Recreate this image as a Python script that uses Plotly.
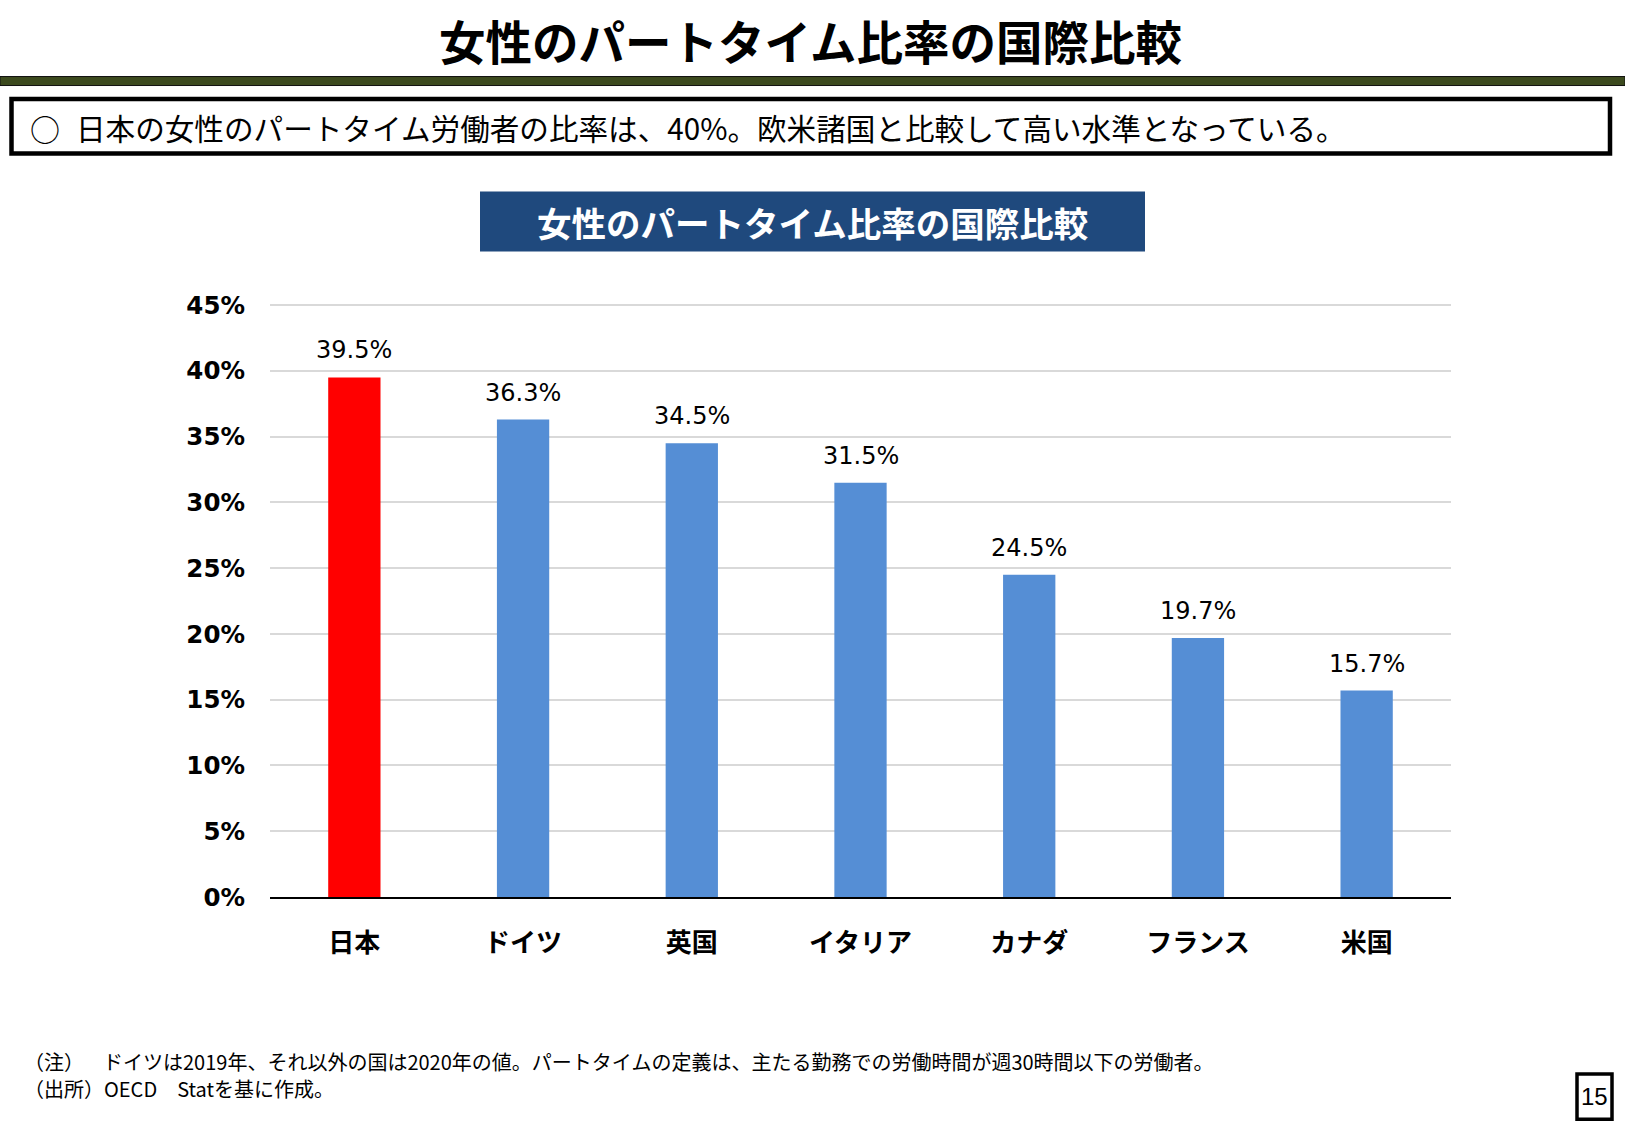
import plotly.graph_objects as go

categories = ["日本", "ドイツ", "英国", "イタリア", "カナダ", "フランス", "米国"]
values = [39.5, 36.3, 34.5, 31.5, 24.5, 19.7, 15.7]
bar_colors = ["#FF0000", "#558ED5", "#558ED5", "#558ED5", "#558ED5", "#558ED5", "#558ED5"]
tick_vals = [0, 5, 10, 15, 20, 25, 30, 35, 40, 45]

page_title = "女性のパートタイム比率の国際比較"
summary_mark = "○"
summary = "日本の女性のパートタイム労働者の比率は、40%。欧米諸国と比較して高い水準となっている。"
chart_title = "女性のパートタイム比率の国際比較"
note1_head = "（注）"
note1 = "ドイツは2019年、それ以外の国は2020年の値。パートタイムの定義は、主たる勤務での労働時間が週30時間以下の労働者。"
note2 = "（出所）OECD　Statを基に作成。"
page_no = "15"

W, H = 1625, 1125
PL, PR = 270, 1451
Y0, Y45 = 897, 305.5
YMAX = 46
px_per = (Y0 - Y45) / 45
top = Y0 - YMAX * px_per

JP = "Noto Sans CJK JP"
NUM = "DejaVu Sans"

def px(x):
    return (x - PL) / (PR - PL)

def py(y):
    return (Y0 - y) / (Y0 - top)

fig = go.Figure()
fig.add_trace(go.Bar(
    x=categories, y=values, marker=dict(color=bar_colors, line=dict(width=0)),
    width=0.31, hoverinfo="skip",
))

annotations = []
for c, v in zip(categories, values):
    annotations.append(dict(x=c, y=v, xref="x", yref="y", text=f"{v}%", showarrow=False,
                            yanchor="bottom", yshift=11,
                            font=dict(family=NUM, size=24, color="#000000")))

# page title
annotations.append(dict(x=px(W / 2 - 2), y=py(40), xref="paper", yref="paper", text=f"<b>{page_title}</b>",
                        showarrow=False, xanchor="center", yanchor="middle",
                        font=dict(family=JP, size=46.5, color="#000000")))
# summary
annotations.append(dict(x=px(28), y=py(128), xref="paper", yref="paper", text=summary_mark,
                        showarrow=False, xanchor="left", yanchor="middle",
                        font=dict(family=JP, size=30, color="#000000")))
annotations.append(dict(x=px(74), y=py(128), xref="paper", yref="paper", text=summary,
                        showarrow=False, xanchor="left", yanchor="middle",
                        font=dict(family=JP, size=29.6, color="#000000")))
# chart title
annotations.append(dict(x=px(812), y=py(222), xref="paper", yref="paper", text=f"<b>{chart_title}</b>",
                        showarrow=False, xanchor="center", yanchor="middle",
                        font=dict(family=JP, size=34.5, color="#FFFFFF")))
# notes
annotations.append(dict(x=px(22), y=py(1061), xref="paper", yref="paper", text=note1_head,
                        showarrow=False, xanchor="left", yanchor="middle",
                        font=dict(family=JP, size=20, color="#000000")))
annotations.append(dict(x=px(101), y=py(1061), xref="paper", yref="paper", text=note1,
                        showarrow=False, xanchor="left", yanchor="middle",
                        font=dict(family=JP, size=20, color="#000000")))
annotations.append(dict(x=px(22), y=py(1088), xref="paper", yref="paper", text=note2,
                        showarrow=False, xanchor="left", yanchor="middle",
                        font=dict(family=JP, size=20, color="#000000")))
annotations.append(dict(x=px(1594), y=py(1096), xref="paper", yref="paper", text=page_no,
                        showarrow=False, xanchor="center", yanchor="middle",
                        font=dict(family="Liberation Sans", size=24, color="#000000")))

shapes = [
    # green rule
    dict(type="rect", xref="paper", yref="paper", x0=px(0), x1=px(W), y0=py(77), y1=py(86),
         fillcolor="#3C4A1E", line=dict(color="#111111", width=1)),
    # summary box
    dict(type="rect", xref="paper", yref="paper", x0=px(11.5), x1=px(1610), y0=py(99.5), y1=py(154),
         fillcolor="rgba(0,0,0,0)", line=dict(color="#000000", width=4.5)),
    # chart title box
    dict(type="rect", xref="paper", yref="paper", x0=px(480), x1=px(1145), y0=py(192), y1=py(252),
         fillcolor="#1F497D", line=dict(width=0), layer="below"),
    # page number box
    dict(type="rect", xref="paper", yref="paper", x0=px(1577), x1=px(1612), y0=py(1074), y1=py(1119),
         fillcolor="rgba(0,0,0,0)", line=dict(color="#000000", width=3.5)),
]

fig.update_layout(
    width=W, height=H,
    margin=dict(l=PL, r=W - PR, t=top, b=H - Y0, pad=0),
    paper_bgcolor="#FFFFFF", plot_bgcolor="#FFFFFF",
    showlegend=False,
    annotations=annotations, shapes=shapes,
    xaxis=dict(showline=True, linecolor="#000000", linewidth=2, ticks="",
               tickfont=dict(family=JP, size=26, color="#000000"),
               ticklabelstandoff=22, showgrid=False, fixedrange=True),
    yaxis=dict(range=[0, YMAX], tickvals=tick_vals, ticktext=[f"<b>{v}%</b>" for v in tick_vals],
               showgrid=True, gridcolor="#D9D9D9", gridwidth=2, zeroline=False, showline=False,
               ticks="", tickfont=dict(family=NUM, size=24.5, color="#000000"),
               ticklabelstandoff=24, fixedrange=True),
)
fig.update_xaxes(tickvals=categories, ticktext=[f"<b>{c}</b>" for c in categories])

fig.write_html("out.html")
